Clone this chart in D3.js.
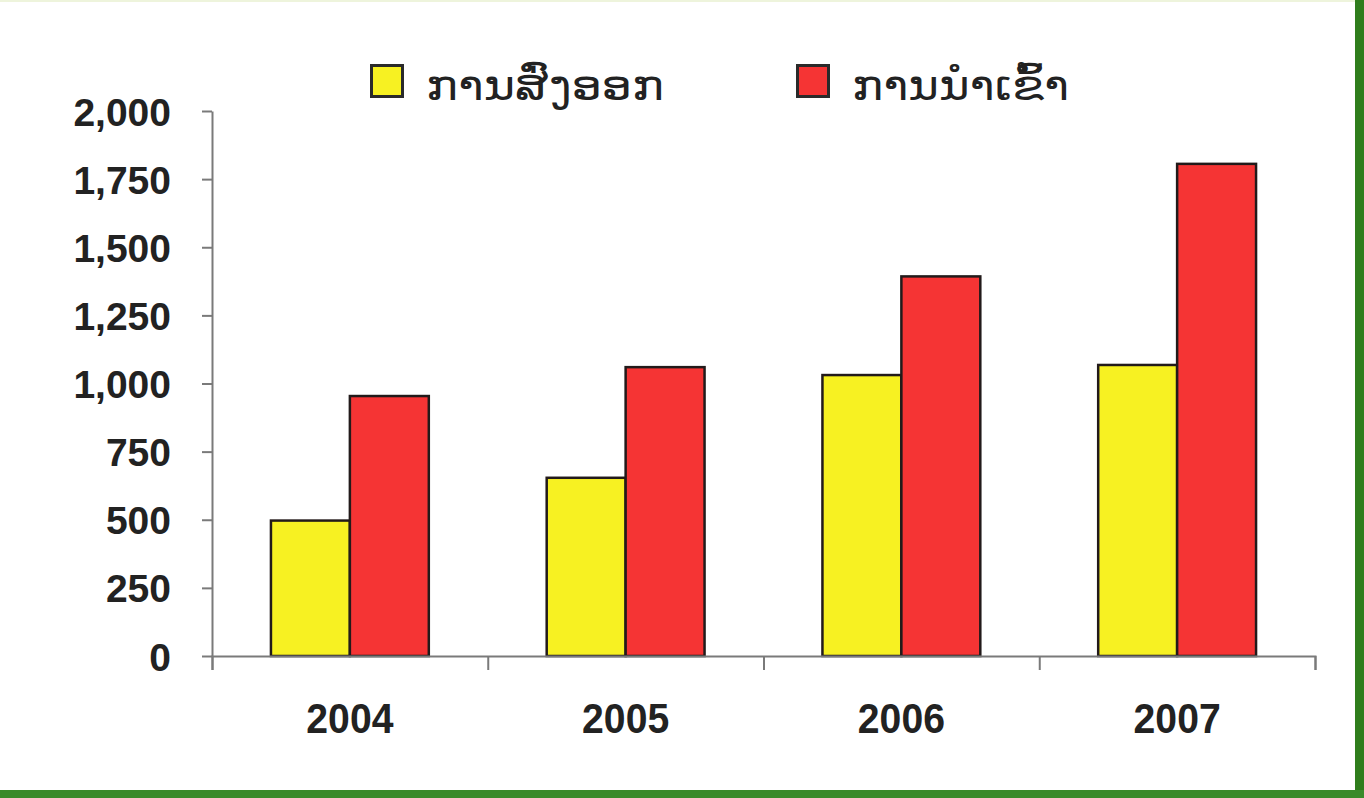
<!DOCTYPE html>
<html>
<head>
    <meta charset="utf-8">
    <title>exports-imports</title>
    <script src="https://cdn.jsdelivr.net/npm/d3@7"></script>
    <style type="text/css">
        body { margin: 0; background: #fff; }
        .axis path, .axis line {
            fill: none;
            stroke: #7a7a7a;
            stroke-width: 2;
        }
        .axis text {
            font-family: "Liberation Sans", Arial, sans-serif;
            font-weight: bold;
            fill: #222;
        }
        .legend text {
            font-family: "DejaVu Sans", "Noto Sans", sans-serif;
            fill: #222;
        }
    </style>
</head>
<body>
<script type="text/javascript">
    // data
    var years = ['2004', '2005', '2006', '2007'];
    var exportsVals = [497, 654, 1031, 1068];
    var importsVals = [954, 1060, 1393, 1806];
    var seriesNames = ['ການສົ່ງອອກ', 'ການນຳເຂົ້າ'];
    var seriesColors = ['#f7f122', '#f53434'];
    var yTicks = [0, 250, 500, 750, 1000, 1250, 1500, 1750, 2000];

    var rows = years.map(function (y, i) {
        return { year: y, values: [exportsVals[i], importsVals[i]] };
    });

    var svgWidth = 1364, svgHeight = 798;
    var margin = { top: 111, right: 49, bottom: 142, left: 212 };
    var width = svgWidth - margin.left - margin.right;
    var height = svgHeight - margin.top - margin.bottom;

    var svg = d3.select('body').append('svg')
        .attr('width', svgWidth).attr('height', svgHeight);

    // frame: green border right and bottom
    svg.append('rect').attr('x', 0).attr('y', 0).attr('width', svgWidth).attr('height', 2)
        .attr('fill', '#eef4dc');
    svg.append('rect').attr('x', 1355).attr('y', 0).attr('width', 9).attr('height', svgHeight)
        .attr('fill', '#2f7d1c');
    svg.append('rect').attr('x', 0).attr('y', 790).attr('width', svgWidth).attr('height', 8)
        .attr('fill', '#3a8a2a');

    var x0 = d3.scaleBand().domain(years).range([0, width])
        .paddingInner(0.4275).paddingOuter(0.21375);
    var x1 = d3.scaleBand().domain([0, 1]).range([0, x0.bandwidth()]);
    var y = d3.scaleLinear().domain([0, 2000]).range([height, 0]);

    var g = svg.append('g')
        .attr('transform', 'translate(' + margin.left + ',' + margin.top + ')');

    // bars
    var groups = g.selectAll('.grp').data(rows).enter().append('g')
        .attr('class', 'grp')
        .attr('transform', function (d) { return 'translate(' + x0(d.year) + ',0)'; });

    groups.selectAll('rect').data(function (d) { return d.values; }).enter().append('rect')
        .attr('x', function (d, i) { return x1(i); })
        .attr('y', function (d) { return y(d); })
        .attr('width', x1.bandwidth())
        .attr('height', function (d) { return height - y(d); })
        .attr('fill', function (d, i) { return seriesColors[i]; })
        .attr('stroke', '#221a1a')
        .attr('stroke-width', 2.5);

    // y axis
    var yAxis = d3.axisLeft(y).tickValues(yTicks).tickSize(10).tickPadding(31)
        .tickSizeOuter(0).tickFormat(d3.format(','));
    var yg = g.append('g').attr('class', 'axis').call(yAxis);
    yg.selectAll('text').style('font-size', '39px').attr('dy', '0.36em');

    // x axis: boundary ticks
    var xb = d3.scaleLinear().domain([0, years.length]).range([0, width]);
    g.append('g').attr('class', 'axis')
        .attr('transform', 'translate(0,' + height + ')')
        .call(d3.axisBottom(xb).ticks(years.length).tickSize(14).tickSizeOuter(14).tickFormat(''));

    // x axis labels
    var xg = g.append('g').attr('class', 'axis')
        .attr('transform', 'translate(0,' + height + ')')
        .call(d3.axisBottom(x0).tickSize(0).tickPadding(46));
    xg.select('.domain').remove();
    xg.selectAll('text').style('font-size', '43px').attr('transform', 'scale(0.91,1)');

    // legend
    var legendX = [370, 796];
    var legendLen = [238, 217];
    var legend = svg.append('g').attr('class', 'legend');
    var items = legend.selectAll('g').data(seriesNames).enter().append('g')
        .attr('transform', function (d, i) { return 'translate(' + legendX[i] + ',64)'; });
    items.append('rect')
        .attr('x', 1.5).attr('y', 1.5).attr('width', 31).attr('height', 31)
        .attr('fill', function (d, i) { return seriesColors[i]; })
        .attr('stroke', '#2a2a2a').attr('stroke-width', 3);
    items.append('text')
        .attr('x', 56).attr('y', 36)
        .attr('textLength', function (d, i) { return legendLen[i]; })
        .attr('lengthAdjust', 'spacingAndGlyphs')
        .style('font-size', '43px')
        .text(function (d) { return d; });
</script>
</body>
</html>
